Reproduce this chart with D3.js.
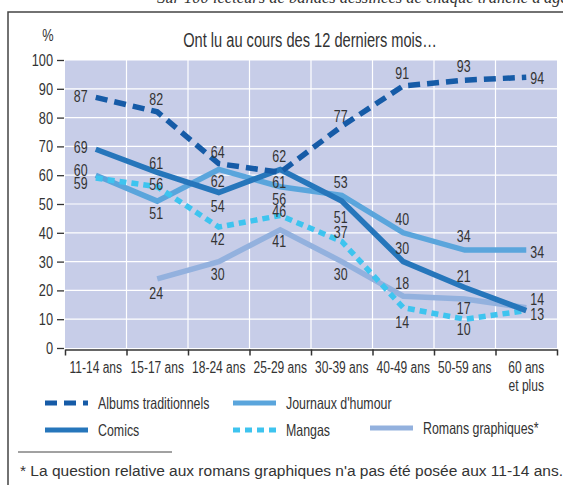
<!DOCTYPE html>
<html>
<head>
  <meta charset="utf-8">
  <style>
    body { margin: 0; background: #fff; }
    svg text { font-family: "Liberation Sans", Arial, sans-serif; fill: #333; }
    .head { font-family: "Liberation Serif", serif; font-style: italic; }
  </style>
</head>
<body>
  <script src="https://cdn.jsdelivr.net/npm/d3@7/dist/d3.min.js"></script>
  <script>
    // data
    var ages = ["11-14 ans", "15-17 ans", "18-24 ans", "25-29 ans", "30-39 ans", "40-49 ans", "50-59 ans", "60 ans\net plus"];
    var albums   = [87, 82, 64, 61, 77, 91, 93, 94];
    var journaux = [60, 51, 62, 56, 53, 40, 34, 34];
    var comics   = [69, 61, 54, 62, 51, 30, 21, 13];
    var mangas   = [59, 56, 42, 46, 37, 14, 10, 13];
    var romans   = [null, 24, 30, 41, 30, 18, 17, 14];
    var yTicks = [0, 10, 20, 30, 40, 50, 60, 70, 80, 90, 100];

    // vertical nudges of the value labels (baseline, px from the point); null = no label
    var albumsDy   = [5, -7, -6, 16, -4, -7, -8, 7];
    var journauxDy = [1, 18, 18, 18, -7, -8, -8, 8];
    var comicsDy   = [4, -3, 20, -7, 22, -8, -6, null];
    var mangasDy   = [11, 3, 18, 1, -3, 20, 16, 9];
    var romansDy   = [0, 20, 18, 17, 18, -7, 15, -3];

    var W = 563, H = 485;
    var margin = {top: 60, right: 6, bottom: 137, left: 65};
    var squeeze = 0.75; // condensed look

    // squeeze a text horizontally, keeping it as text
    function narrow(sel) {
      sel.each(function() {
        var w = this.getComputedTextLength();
        d3.select(this).attr("textLength", w * squeeze).attr("lengthAdjust", "spacingAndGlyphs");
      });
    }

    var x = d3.scaleBand().domain(ages).range([margin.left, W - margin.right]);
    var xEdge = d3.scaleLinear().domain([0, ages.length]).range(x.range());
    var y = d3.scaleLinear().domain([0, 100]).range([H - margin.bottom, margin.top]);
    function cx(i) { return x(ages[i]) + x.bandwidth() / 2; }

    var svg = d3.select("body").append("svg")
      .attr("width", W)
      .attr("height", H);

    // header (cut at the top)
    svg.append("text")
      .attr("class", "head")
      .attr("x", 157)
      .attr("y", 3)
      .style("font-size", "16.5px")
      .text("Sur 100 lecteurs de bandes dessinées de chaque tranche d'âge");

    // frame
    svg.append("rect")
      .attr("x", 8).attr("y", 12)
      .attr("width", 600).attr("height", 520)
      .attr("fill", "none")
      .attr("stroke", "#444")
      .attr("stroke-width", 1.5);

    // plot background
    svg.append("rect")
      .attr("x", margin.left).attr("y", y(100))
      .attr("width", W - margin.right - margin.left)
      .attr("height", y(0) - y(100))
      .attr("fill", "#c7cde8");

    // grid
    svg.append("g").selectAll("line")
      .data(yTicks.slice(1))
      .enter().append("line")
      .attr("x1", margin.left).attr("x2", W - margin.right)
      .attr("y1", function(d) { return y(d); })
      .attr("y2", function(d) { return y(d); })
      .attr("stroke", "#fff").attr("stroke-width", 1.2);

    svg.append("g").selectAll("line")
      .data(d3.range(1, ages.length))
      .enter().append("line")
      .attr("x1", function(d) { return xEdge(d); })
      .attr("x2", function(d) { return xEdge(d); })
      .attr("y1", y(100)).attr("y2", y(0))
      .attr("stroke", "#fff").attr("stroke-width", 1.2);

    // y axis
    var yAxis = svg.append("g")
      .attr("transform", "translate(" + (margin.left - 1) + ",0)")
      .call(d3.axisLeft(y).tickValues(yTicks).tickSize(7).tickPadding(4));
    yAxis.select(".domain").remove();
    yAxis.selectAll("line").attr("stroke", "#333").attr("stroke-width", 1.3);
    yAxis.selectAll("text")
      .style("font-size", "17px")
      .attr("font-family", null)
      .attr("fill", "#333")
      .call(narrow);

    // x axis
    var xAxis = svg.append("g")
      .attr("transform", "translate(0," + (y(0) + 1.5) + ")")
      .call(d3.axisBottom(xEdge).tickValues(d3.range(ages.length + 1)).tickSize(6).tickSizeOuter(0).tickFormat(""));
    xAxis.select(".domain").attr("stroke", "#333").attr("stroke-width", 1.5);
    xAxis.selectAll("line").attr("stroke", "#333").attr("stroke-width", 1.5);

    ages.forEach(function(a, i) {
      a.split("\n").forEach(function(s, k) {
        svg.append("text")
          .attr("text-anchor", "middle")
          .attr("x", cx(i))
          .attr("y", y(0) + 25 + k * 18)
          .style("font-size", "16px")
          .text(s)
          .call(narrow);
      });
    });

    // titles
    svg.append("text")
      .attr("x", 48).attr("y", 41)
      .attr("text-anchor", "middle")
      .style("font-size", "17px")
      .text("%")
      .call(narrow);
    svg.append("text")
      .attr("x", 310).attr("y", 47)
      .attr("text-anchor", "middle")
      .style("font-size", "19.5px")
      .text("Ont lu au cours des 12 derniers mois…")
      .call(narrow);

    // series
    var series = [
      {name: "Romans graphiques*", values: romans, dy: romansDy, color: "#93b1de", dash: null},
      {name: "Journaux d'humour", values: journaux, dy: journauxDy, color: "#5aa5dc", dash: null},
      {name: "Mangas", values: mangas, dy: mangasDy, color: "#3ec4ef", dash: "7,5"},
      {name: "Comics", values: comics, dy: comicsDy, color: "#2676bb", dash: null},
      {name: "Albums traditionnels", values: albums, dy: albumsDy, color: "#165ba7", dash: "12,7"}
    ];

    var line = d3.line()
      .defined(function(d) { return d != null; })
      .x(function(d, i) { return cx(i); })
      .y(function(d) { return y(d); });

    series.forEach(function(s) {
      svg.append("path")
        .datum(s.values)
        .attr("d", line)
        .attr("fill", "none")
        .attr("stroke", s.color)
        .attr("stroke-width", 5.5)
        .attr("stroke-dasharray", s.dash);
    });

    // value labels
    series.forEach(function(s) {
      var g = svg.append("g");
      s.values.forEach(function(v, i) {
        if (v == null || s.dy[i] == null) return;
        var last = i === ages.length - 1, first = i === 0;
        g.append("text")
          .attr("text-anchor", last ? "start" : "middle")
          .attr("x", cx(i) + (first ? -15 : last ? 4 : -1))
          .attr("y", y(v) + s.dy[i])
          .style("font-size", "16.5px")
          .text(v)
          .call(narrow);
      });
    });

    // legend
    var legend = [
      {s: series[4], x: 45, y: 403},
      {s: series[1], x: 233, y: 403},
      {s: series[3], x: 45, y: 430},
      {s: series[2], x: 233, y: 430},
      {s: series[0], x: 370, y: 428}
    ];
    legend.forEach(function(l) {
      svg.append("line")
        .attr("x1", l.x).attr("x2", l.x + 43)
        .attr("y1", l.y).attr("y2", l.y)
        .attr("stroke", l.s.color)
        .attr("stroke-width", 5)
        .attr("stroke-dasharray", l.s.dash);
      svg.append("text")
        .attr("x", l.x + 53).attr("y", l.y + 6)
        .style("font-size", "16.5px")
        .text(l.s.name)
        .call(narrow);
    });

    // footnote
    svg.append("line")
      .attr("x1", 18).attr("x2", 172)
      .attr("y1", 452).attr("y2", 452)
      .attr("stroke", "#444").attr("stroke-width", 1);
    svg.append("text")
      .attr("x", 20).attr("y", 476)
      .style("font-size", "15.5px")
      .attr("fill", "#222")
      .text("* La question relative aux romans graphiques n'a pas été posée aux 11-14 ans.");
  </script>
</body>
</html>
